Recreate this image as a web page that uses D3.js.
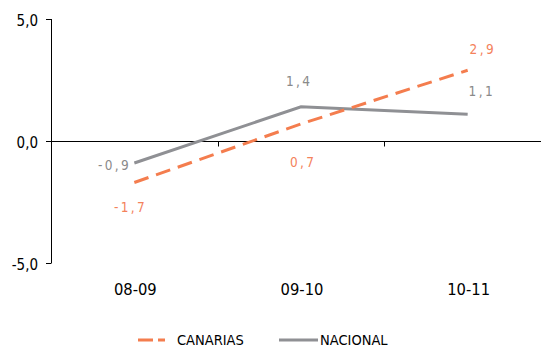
<!DOCTYPE html>
<html><head><meta charset="utf-8">
<script src="https://cdn.jsdelivr.net/npm/d3@7/dist/d3.min.js"></script>
<style>body{margin:0;background:#fff;} svg{display:block;font-family:"DejaVu Sans Condensed","DejaVu Sans",Verdana,sans-serif;font-stretch:condensed;}</style>
</head><body><svg id="c" width="541" height="347"></svg>
<script>
const categories = ["08-09","09-10","10-11"];
const canarias = [-1.7, 0.7, 2.9];
const nacional = [-0.9, 1.4, 1.1];
const yTicks = [5, 0, -5];
const seriesNames = ["CANARIAS","NACIONAL"];

const colors = {CANARIAS:"#F47D4E", NACIONAL:"#8F9094"};
const labelColors = {CANARIAS:"#F4825B", NACIONAL:"#8A8A8A"};
// label placement (style): dx, dy relative to point
const labelPos = {
  CANARIAS:[[-5,30],[1,43],[14,-16]],
  NACIONAL:[[-21,7],[-3,-21],[13,-18]]
};

const svg = d3.select("#c");
const x = d3.scaleBand().domain(categories).range([51,551]);
const y = d3.scaleLinear().domain([-5,5]).range([263,19]);
const fmt = v => d3.format(".1f")(v).replace(".",",").replace("\u2212","-");

// y axis
svg.append("line").attr("x1",51.5).attr("x2",51.5).attr("y1",y(5)).attr("y2",y(-5)).attr("stroke","#000");
yTicks.forEach(t=>{
  svg.append("line").attr("x1",46).attr("x2",51.5).attr("y1",Math.round(y(t))+0.5).attr("y2",Math.round(y(t))+0.5).attr("stroke","#000");
  svg.append("text").attr("x",38).attr("y",y(t)+6.5).attr("text-anchor","end").attr("font-size",15).attr("fill","#000").text(fmt(t));
});
// x axis at 0
const y0 = Math.round(y(0))+0.5;
svg.append("line").attr("x1",51).attr("x2",541).attr("y1",y0).attr("y2",y0).attr("stroke","#000");
categories.slice(1).forEach(c=>{
  const xx = Math.round(x(c))+0.5;
  svg.append("line").attr("x1",xx).attr("x2",xx).attr("y1",y0).attr("y2",y0+5).attr("stroke","#000");
});
categories.forEach(c=>{
  svg.append("text").attr("x",x(c)+x.bandwidth()/2+1).attr("y",295).attr("text-anchor","middle").attr("font-size",16.4).attr("fill","#000").text(c);
});

const line = d3.line().x((d,i)=>x(categories[i])+x.bandwidth()/2).y(d=>y(d));
svg.append("path").datum(nacional).attr("d",line).attr("fill","none").attr("stroke",colors.NACIONAL).attr("stroke-width",3);
svg.append("path").datum(canarias).attr("d",line).attr("fill","none").attr("stroke",colors.CANARIAS).attr("stroke-width",3).attr("stroke-dasharray","15,8");

function labels(vals,name){
  vals.forEach((v,i)=>{
    const px = x(categories[i])+x.bandwidth()/2, py = y(v);
    const [dx,dy] = labelPos[name][i];
    svg.append("text").attr("x",px+dx+1.2).attr("y",py+dy).attr("text-anchor","middle")
      .attr("font-size",13.5).attr("letter-spacing","2.4px").attr("fill",labelColors[name]).text(fmt(v));
  });
}
labels(nacional,"NACIONAL");
labels(canarias,"CANARIAS");

// legend
const lg = svg.append("g");
lg.append("line").attr("x1",138).attr("x2",165).attr("y1",340).attr("y2",340).attr("stroke",colors.CANARIAS).attr("stroke-width",3).attr("stroke-dasharray","15,5");
lg.append("text").attr("x",177).attr("y",345).attr("font-size",14.5).attr("fill","#000").text(seriesNames[0]);
lg.append("line").attr("x1",279).attr("x2",318).attr("y1",340).attr("y2",340).attr("stroke",colors.NACIONAL).attr("stroke-width",3);
lg.append("text").attr("x",320).attr("y",345).attr("font-size",14.5).attr("fill","#000").text(seriesNames[1]);
</script></body></html>
